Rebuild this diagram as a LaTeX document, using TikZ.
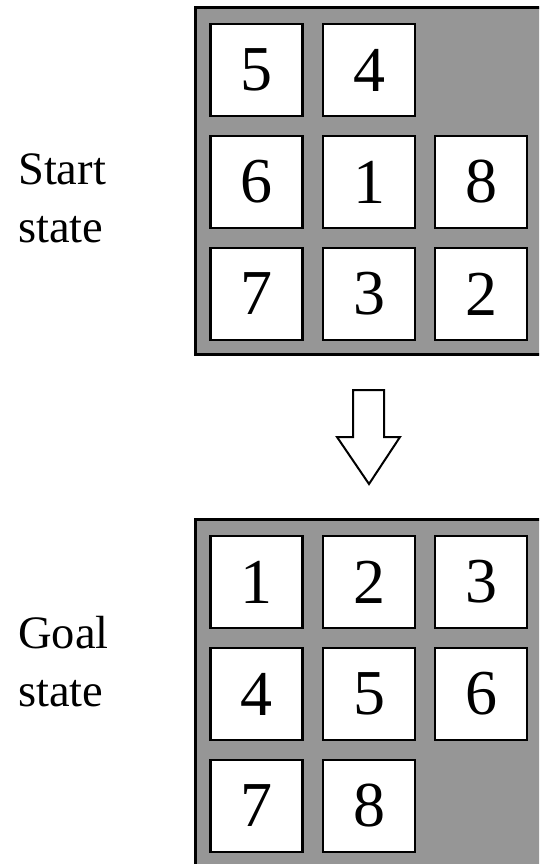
\documentclass[tikz,border=0pt]{standalone}
\usepackage{fontspec}
\setmainfont{Liberation Serif}
\begin{document}
\begin{tikzpicture}[x=1pt,y=-1pt,
  board/.style={draw=black,fill=boardgray,line width=2.5pt},
  tile/.style={draw=black,fill=white,line width=2.5pt,minimum size=92pt,
    inner sep=0pt,font=\fontsize{64}{64}\selectfont},
  label/.style={anchor=base west,align=left,inner sep=0pt,
    font=\fontsize{46.5}{58}\selectfont},
  bigarrow/.style={draw=black,fill=white,line width=2pt,line join=miter}]
\definecolor{boardgray}{RGB}{150,150,150}
\useasboundingbox (0,0) rectangle (539,864);
\clip (0,0) rectangle (539,864);

% start board
\draw[board] (195.5,7.5) rectangle (548,354.5);
\node[tile] (s11) at (256.5,70) {5};
\node[tile] (s12) at (369,70) {4};
\node[tile] (s21) at (256.5,182) {6};
\node[tile] (s22) at (369,182) {1};
\node[tile] (s23) at (481,182) {8};
\node[tile] (s31) at (256.5,294) {7};
\node[tile] (s32) at (369,294) {3};
\node[tile] (s33) at (481,294) {2};
% the base of a two-line label sits on its last line
\node[label] (startlbl) at (18,242) {Start\\state};

% arrow between the boards
\draw[bigarrow] (353,390) -- (384,390) -- (384,437) -- (400,437) -- (369,484)
  -- (337,437) -- (353,437) -- cycle;

% goal board
\draw[board] (195.5,519.5) rectangle (548,880);
\node[tile] (g11) at (256.5,582) {1};
\node[tile] (g12) at (369,582) {2};
\node[tile] (g13) at (481,582) {3};
\node[tile] (g21) at (256.5,694) {4};
\node[tile] (g22) at (369,694) {5};
\node[tile] (g23) at (481,694) {6};
\node[tile] (g31) at (256.5,806) {7};
\node[tile] (g32) at (369,806) {8};
\node[label] (goallbl) at (18,706) {Goal\\state};
\end{tikzpicture}
\end{document}
